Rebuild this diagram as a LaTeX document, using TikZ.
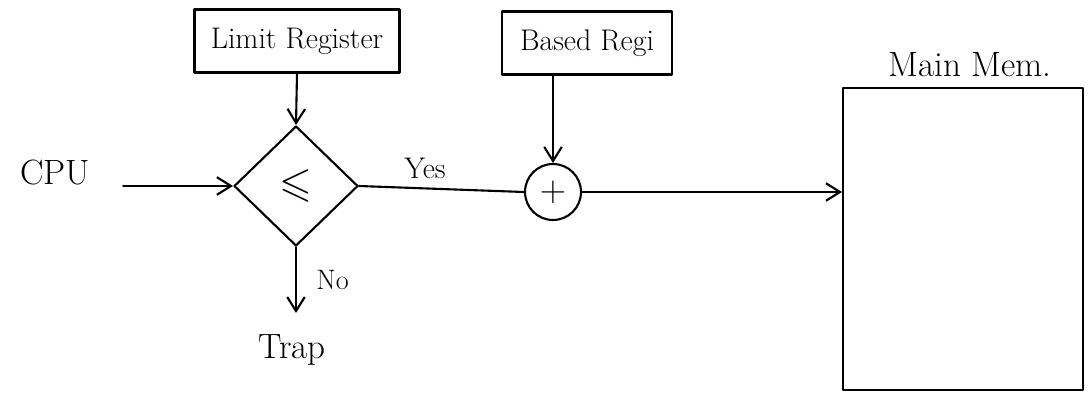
\documentclass[tikz,border=0pt]{standalone}
\usepackage{amssymb}
\usetikzlibrary{shapes.geometric,arrows.meta}

\tikzset{
  x=0.02cm, y=-0.02cm,
  every node/.style={font=\fontsize{18}{21}\selectfont},
  stroke/.style={line width=1.2pt, line cap=round, line join=round},
  arr/.style={stroke, -{Straight Barb[length=8pt,width=10pt,line width=1.2pt]}},
  regbox/.style={stroke, draw, rectangle, inner sep=0pt},
  cmpbox/.style={stroke, draw, diamond, inner sep=0pt, minimum width=2.48cm, minimum height=2.4cm},
  adder/.style={stroke, draw, circle, inner sep=0pt, minimum size=1.12cm},
  membox/.style={stroke, draw, rectangle, inner sep=0pt, minimum width=4.8cm, minimum height=6.04cm},
  lbl/.style={inner sep=1pt}
}

\begin{document}
\begin{tikzpicture}
  \useasboundingbox (0,0) rectangle (1092,403);

  % blocks
  \node[lbl, font=\fontsize{20}{24}\selectfont] (cpu) at (55,172) {CPU};
  \node[regbox, minimum width=4.1cm, minimum height=1.26cm, font=\fontsize{17}{20}\selectfont] (lim) at (297,41) {Limit Register};
  \node[cmpbox] (cmp) at (296,186) {\fontsize{24}{28}\selectfont$\leqslant$};
  \node[regbox, minimum width=3.4cm, minimum height=1.26cm, font=\fontsize{17}{20}\selectfont] (base) at (587,43) {Based Regi};
  \node[adder] (add) at (553,192) {\fontsize{20}{24}\selectfont$+$};
  \node[membox] (mem) at (963,239) {};
  \node[lbl, font=\fontsize{20}{24}\selectfont] (memlbl) at (970,65) {Main Mem.};
  \node[lbl, font=\fontsize{20}{24}\selectfont] (trap) at (292,350) {Trap};
  \coordinate (noend) at (296,313);

  % connectors
  \draw[arr] ([xshift=0.62cm]cpu.east |- cmp.west) -- (cmp.west);
  \draw[arr] (lim.south) -- (cmp.north);
  \draw[stroke] (cmp.east) -- (add.west)
    node[lbl, pos=0.4, above=4pt, font=\fontsize{17}{20}\selectfont] (yes) {Yes};
  \draw[arr] (add.north |- base.south) -- (add.north);
  \draw[arr] (add.east) -- (mem.west |- add.east);
  \draw[arr] (cmp.south) -- (noend)
    node[lbl, pos=0.5, right=10pt, font=\fontsize{16}{19}\selectfont] (no) {No};
\end{tikzpicture}
\end{document}
